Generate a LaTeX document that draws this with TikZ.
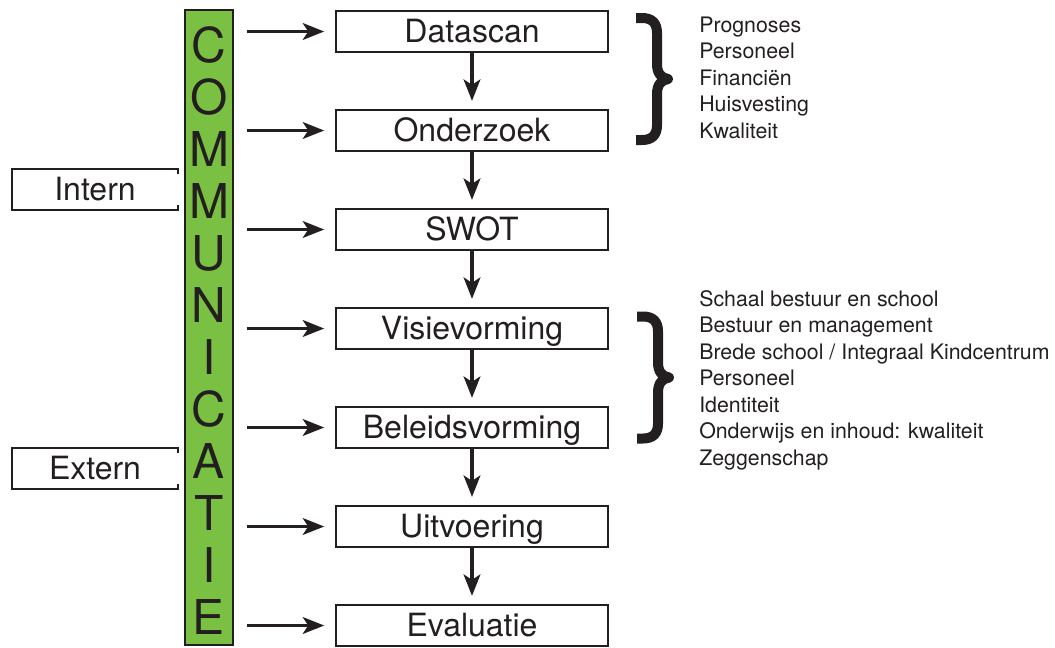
\documentclass[tikz,border=0pt]{standalone}
\usepackage{fontspec}
\setmainfont{TeX Gyre Heros}
\usetikzlibrary{arrows.meta}
\definecolor{ink}{HTML}{231F20}
\definecolor{commgreen}{HTML}{7AC143}
\begin{document}
\begin{tikzpicture}[x=0.75pt,y=-0.75pt,
  stepbox/.style={draw=ink, line width=1.7pt, minimum width=204pt, minimum height=30.75pt,
    inner sep=0pt, text height=17pt, text depth=0pt, text=ink, font=\fontsize{24}{24}\selectfont},
  sidebox/.style={minimum width=124.5pt, minimum height=30.75pt, inner sep=0pt,
    text height=17pt, text depth=0pt, text=ink, font=\fontsize{24}{24}\selectfont},
  boxline/.style={draw=ink, line width=1.7pt},
  letter/.style={anchor=base, inner sep=0pt, text=ink, font=\fontsize{36}{36}\selectfont},
  item/.style={anchor=base west, inner sep=0pt, text=ink, font=\fontsize{16}{16}\selectfont},
  flow/.style={draw=ink, line width=2.6pt, -{Stealth[length=16pt,width=12.5pt,inset=4pt]}},
  curly/.pic={\draw[ink, line width=7.5pt, line join=round]
    (-32,-61) -- (-26,-61) .. controls (-16,-61) and (-11,-56) .. (-11,-46) -- (-11,-15)
    .. controls (-11,-6) and (-7,-1) .. (0,0) .. controls (-7,1) and (-11,6) .. (-11,15)
    -- (-11,46) .. controls (-11,56) and (-16,61) .. (-26,61) -- (-32,61);}
]
\useasboundingbox (0,0) rectangle (1055,647);

% communication bar
\node[draw=ink, fill=commgreen, line width=1.5pt, minimum width=36pt, minimum height=476.25pt,
  inner sep=0pt] (comm) at (209,327.5) {};
\foreach \L [count=\i from 0] in {C,O,M,M,U,N,I,C,A,T,I,E}
  \node[letter] (c\i) at (209,62+52*\i) {\L};

% process steps
\node[stepbox] (s1) at (472,31.5)  {Datascan};
\node[stepbox] (s2) at (472,130.5) {Onderzoek};
\node[stepbox] (s3) at (472,229.5) {SWOT};
\node[stepbox] (s4) at (472,328.5) {Visievorming};
\node[stepbox] (s5) at (472,427.5) {Beleidsvorming};
\node[stepbox] (s6) at (472,526.5) {Uitvoering};
\node[stepbox] (s7) at (472,625.5) {Evaluatie};

\foreach \a/\b in {s1/s2,s2/s3,s3/s4,s4/s5,s5/s6,s6/s7}
  \draw[flow, shorten >=6pt] (\a.south) -- (\b.north);
\foreach \s in {s1,s2,s3,s4,s5,s6,s7}
  \draw[flow, shorten <=9.5pt, shorten >=8pt] (comm.east |- \s.west) -- (\s.west);

% internal / external, open towards the bar
\node[sidebox] (intern) at (95,189.5) {Intern};
\node[sidebox] (extern) at (95,468.5) {Extern};
\foreach \n in {intern,extern}
  \draw[boxline] ([yshift=-4pt]\n.north east) -- (\n.north east) -- (\n.north west)
    -- (\n.south west) -- (\n.south east) -- ([yshift=4pt]\n.south east);

% topics
\pic at (668,79) {curly};
\pic at (669,377.5) {curly};
\foreach \t [count=\i from 0] in {Prognoses,Personeel,Financiën,Huisvesting,Kwaliteit}
  \node[item] (a\i) at (699,32.5+26.4*\i) {\t};
\foreach \t [count=\i from 0] in {Schaal bestuur en school,Bestuur en management,
    Brede school / Integraal Kindcentrum,Personeel,Identiteit,
    Onderwijs en inhoud: kwaliteit,Zeggenschap}
  \node[item] (b\i) at (699,306+26.5*\i) {\t};
\end{tikzpicture}
\end{document}
